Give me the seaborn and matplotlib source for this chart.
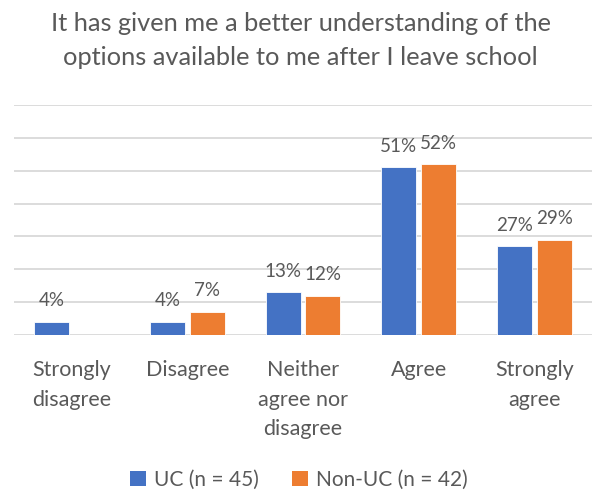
import matplotlib
matplotlib.use("Agg")
import matplotlib.pyplot as plt
from matplotlib.patches import Patch
import seaborn as sns
import pandas as pd

categories = ["Strongly\ndisagree", "Disagree", "Neither\nagree nor\ndisagree", "Agree", "Strongly\nagree"]
uc_values = [4, 4, 13, 51, 27]
non_uc_values = [0, 7, 12, 52, 29]
series_names = ["UC (n = 45)", "Non-UC (n = 42)"]
colors = ["#4472C4", "#ED7D31"]
title_text = "It has given me a better understanding of the\noptions available to me after I leave school"

sns.set_theme(style="white")
plt.rcParams["font.family"] = ["Lato", "DejaVu Sans"]
text_color = "#595959"

df = pd.DataFrame({
    "category": categories * 2,
    "series": [series_names[0]] * len(categories) + [series_names[1]] * len(categories),
    "value": uc_values + non_uc_values,
})

fig = plt.figure(figsize=(5.92, 4.90), dpi=100)
ax = fig.add_axes([14 / 592, 155 / 490, 578 / 592, 230 / 490])

sns.barplot(data=df, x="category", y="value", hue="series", order=categories,
            hue_order=series_names, palette=colors, width=0.69, gap=0.12,
            saturation=1, edgecolor="white", linewidth=0.6, legend=False, ax=ax)

ax.set_ylim(0, 70)
ax.set_xlim(-0.5, 4.5)
ax.set_yticks(range(0, 71, 10))
ax.yaxis.grid(True, color="#D9D9D9", linewidth=1.3)
ax.set_axisbelow(True)
ax.tick_params(axis="y", left=False, labelleft=False)
ax.tick_params(axis="x", bottom=False, pad=12, labelsize=15.5, labelcolor=text_color)
for lbl in ax.get_xticklabels():
    lbl.set_linespacing(1.6)
for s in ax.spines.values():
    s.set_visible(False)
ax.set_xlabel("")
ax.set_ylabel("")

for container, vals in zip(ax.containers, [uc_values, non_uc_values]):
    labels = [f"{v}%" if v > 0 else "" for v in vals]
    ax.bar_label(container, labels=labels, padding=9, fontsize=13.5, color=text_color)

fig.text(0.508, 0.975, title_text, ha="center", va="top", fontsize=18.3,
         color=text_color, linespacing=1.55)

handles = [Patch(facecolor=c, edgecolor="none") for c in colors]
fig.legend(handles, series_names, loc="center", bbox_to_anchor=(0.505, 1 - 480 / 490),
           ncol=2, frameon=False, fontsize=15, labelcolor=text_color,
           handlelength=0.75, handleheight=0.75, handletextpad=0.4, columnspacing=1.6)

fig.savefig("out.png", dpi=100, facecolor="white")
